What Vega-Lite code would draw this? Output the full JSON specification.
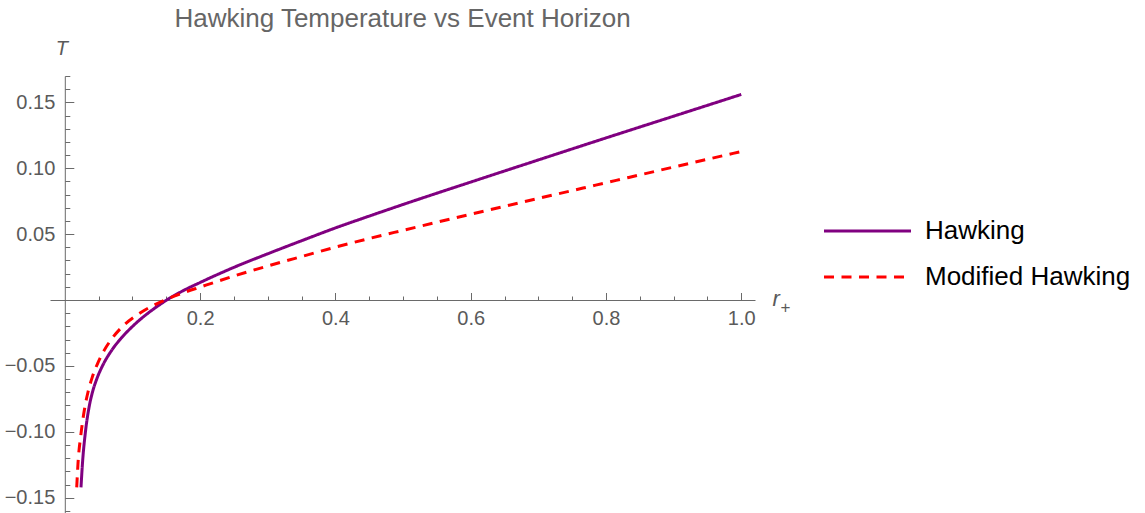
{
  "$schema": "https://vega.github.io/schema/vega-lite/v6.json",
  "width": 705,
  "height": 437,
  "autosize": {"type": "none"},
  "padding": {"left": 50, "top": 76, "right": 390, "bottom": 0},
  "background": "white",
  "title": {
    "text": "Hawking Temperature vs Event Horizon",
    "frame": "group",
    "anchor": "middle",
    "baseline": "alphabetic",
    "offset": -15,
    "fontSize": 26,
    "font": "Liberation Sans",
    "fontWeight": "normal",
    "color": "#666666"
  },
  "config": {
    "view": {"stroke": null},
    "axis": {
      "grid": false,
      "domainColor": "#6a6a6a",
      "tickColor": "#6a6a6a",
      "domainWidth": 1,
      "tickWidth": 1,
      "labelColor": "#5a5a5a",
      "labelFont": "Liberation Sans",
      "labelFontSize": 20,
      "labelOverlap": false,
      "titleFont": "Liberation Sans",
      "titleColor": "#5a5a5a",
      "titleFontWeight": "normal",
      "titleFontStyle": "italic"
    }
  },
  "data": {
    "values": [
      {"r": 0.0239, "T": -0.1422, "series": "Hawking"},
      {"r": 0.0264, "T": -0.1218, "series": "Hawking"},
      {"r": 0.0303, "T": -0.1009, "series": "Hawking"},
      {"r": 0.0362, "T": -0.0804, "series": "Hawking"},
      {"r": 0.0412, "T": -0.0693, "series": "Hawking"},
      {"r": 0.0476, "T": -0.0594, "series": "Hawking"},
      {"r": 0.056, "T": -0.0496, "series": "Hawking"},
      {"r": 0.0683, "T": -0.0389, "series": "Hawking"},
      {"r": 0.0831, "T": -0.0291, "series": "Hawking"},
      {"r": 0.1028, "T": -0.0187, "series": "Hawking"},
      {"r": 0.1249, "T": -0.0092, "series": "Hawking"},
      {"r": 0.1375, "T": -0.0045, "series": "Hawking"},
      {"r": 0.1506, "T": 0.0, "series": "Hawking"},
      {"r": 0.175, "T": 0.0071, "series": "Hawking"},
      {"r": 0.2, "T": 0.0133, "series": "Hawking"},
      {"r": 0.25, "T": 0.0248, "series": "Hawking"},
      {"r": 0.3, "T": 0.0351, "series": "Hawking"},
      {"r": 0.35, "T": 0.045, "series": "Hawking"},
      {"r": 0.4, "T": 0.0547, "series": "Hawking"},
      {"r": 0.45, "T": 0.0637, "series": "Hawking"},
      {"r": 0.5, "T": 0.0725, "series": "Hawking"},
      {"r": 0.6, "T": 0.0895, "series": "Hawking"},
      {"r": 0.7, "T": 0.1063, "series": "Hawking"},
      {"r": 0.8, "T": 0.123, "series": "Hawking"},
      {"r": 0.9, "T": 0.1395, "series": "Hawking"},
      {"r": 1.0, "T": 0.156, "series": "Hawking"},
      {"r": 0.0176, "T": -0.1422, "series": "Modified Hawking"},
      {"r": 0.0195, "T": -0.124, "series": "Modified Hawking"},
      {"r": 0.0239, "T": -0.1016, "series": "Modified Hawking"},
      {"r": 0.0299, "T": -0.0805, "series": "Modified Hawking"},
      {"r": 0.0343, "T": -0.0698, "series": "Modified Hawking"},
      {"r": 0.0405, "T": -0.0587, "series": "Modified Hawking"},
      {"r": 0.0486, "T": -0.048, "series": "Modified Hawking"},
      {"r": 0.0584, "T": -0.038, "series": "Modified Hawking"},
      {"r": 0.0708, "T": -0.0285, "series": "Modified Hawking"},
      {"r": 0.0875, "T": -0.019, "series": "Modified Hawking"},
      {"r": 0.113, "T": -0.0093, "series": "Modified Hawking"},
      {"r": 0.148, "T": 0.0, "series": "Modified Hawking"},
      {"r": 0.175, "T": 0.0055, "series": "Modified Hawking"},
      {"r": 0.2, "T": 0.0098, "series": "Modified Hawking"},
      {"r": 0.25, "T": 0.0182, "series": "Modified Hawking"},
      {"r": 0.3, "T": 0.0258, "series": "Modified Hawking"},
      {"r": 0.35, "T": 0.033, "series": "Modified Hawking"},
      {"r": 0.4, "T": 0.0401, "series": "Modified Hawking"},
      {"r": 0.45, "T": 0.0467, "series": "Modified Hawking"},
      {"r": 0.5, "T": 0.0529, "series": "Modified Hawking"},
      {"r": 0.6, "T": 0.0651, "series": "Modified Hawking"},
      {"r": 0.7, "T": 0.0771, "series": "Modified Hawking"},
      {"r": 0.8, "T": 0.089, "series": "Modified Hawking"},
      {"r": 0.9, "T": 0.1009, "series": "Modified Hawking"},
      {"r": 1.0, "T": 0.1127, "series": "Modified Hawking"}
    ]
  },
  "layer": [
    {
      "mark": {"type": "line", "strokeOpacity": 0},
      "encoding": {
        "x": {
          "field": "r", "type": "quantitative",
          "scale": {"domain": [-0.0219, 1.0203], "nice": false, "zero": false},
          "axis": {
            "orient": "bottom", "offset": -213, "domain": false, "labels": false,
            "tickSize": -4,
            "values": [0.05, 0.1, 0.15, 0.25, 0.3, 0.35, 0.45, 0.5, 0.55, 0.65, 0.7, 0.75, 0.85, 0.9, 0.95],
            "title": "+", "titleFontSize": 17, "titleFontStyle": "normal", "titleAlign": "left",
            "titleBaseline": "alphabetic", "titleX": 730, "titleY": 12.5, "titleAngle": 0
          }
        },
        "y": {
          "field": "T", "type": "quantitative",
          "scale": {"domain": [-0.1616, 0.170], "nice": false, "zero": false},
          "axis": {
            "orient": "left", "offset": -14.8, "domain": false, "labels": false,
            "tickSize": -5, "title": null,
            "values": [-0.16, -0.14, -0.13, -0.12, -0.11, -0.09, -0.08, -0.07, -0.06, -0.04, -0.03, -0.02, -0.01, 0.01, 0.02, 0.03, 0.04, 0.06, 0.07, 0.08, 0.09, 0.11, 0.12, 0.13, 0.14, 0.16, 0.17]
          }
        },
        "detail": {"field": "series"}
      }
    },
    {
      "mark": {"type": "line", "strokeWidth": 3, "interpolate": "monotone"},
      "encoding": {
        "x": {
          "field": "r", "type": "quantitative",
          "scale": {"domain": [-0.0219, 1.0203], "nice": false, "zero": false},
          "axis": {
            "orient": "bottom", "offset": -213, "tickSize": -7.5, "labelPadding": 15.5,
            "values": [0.2, 0.4, 0.6, 0.8, 1.0], "format": ".1f",
            "title": "r", "titleFontSize": 22, "titleAlign": "left", "titleBaseline": "alphabetic",
            "titleX": 722, "titleY": 5, "titleAngle": 0
          }
        },
        "y": {
          "field": "T", "type": "quantitative",
          "scale": {"domain": [-0.1616, 0.170], "nice": false, "zero": false},
          "axis": {
            "orient": "left", "offset": -14.8, "tickSize": -9, "labelPadding": 19,
            "values": [-0.15, -0.1, -0.05, 0.05, 0.1, 0.15], "format": ".2f",
            "title": "T", "titleFontSize": 20, "titleAngle": 0, "titleAlign": "center",
            "titleBaseline": "alphabetic", "titleX": -3.5, "titleY": -22
          }
        },
        "color": {
          "field": "series", "type": "nominal",
          "scale": {"domain": ["Hawking", "Modified Hawking"], "range": ["#800080", "#ff0000"]},
          "legend": {
            "title": null, "orient": "none", "legendX": 794, "legendY": 131.5,
            "symbolType": "M-2,0H2", "symbolSize": 1892, "symbolStrokeWidth": 3,
            "labelFont": "Liberation Sans", "labelFontSize": 26, "labelColor": "#000000",
            "labelOffset": 34, "rowPadding": 9, "padding": 0, "labelLimit": 400
          }
        },
        "strokeDash": {
          "field": "series", "type": "nominal",
          "scale": {"domain": ["Hawking", "Modified Hawking"], "range": [[1, 0], [10, 7.5]]},
          "legend": {
            "title": null, "orient": "none", "legendX": 794, "legendY": 131.5,
            "symbolType": "M-2,0H2", "symbolSize": 1892, "symbolStrokeWidth": 3,
            "labelFont": "Liberation Sans", "labelFontSize": 26, "labelColor": "#000000",
            "labelOffset": 34, "rowPadding": 9, "padding": 0, "labelLimit": 400
          }
        }
      }
    }
  ],
  "resolve": {"axis": {"x": "independent", "y": "independent"}}
}
